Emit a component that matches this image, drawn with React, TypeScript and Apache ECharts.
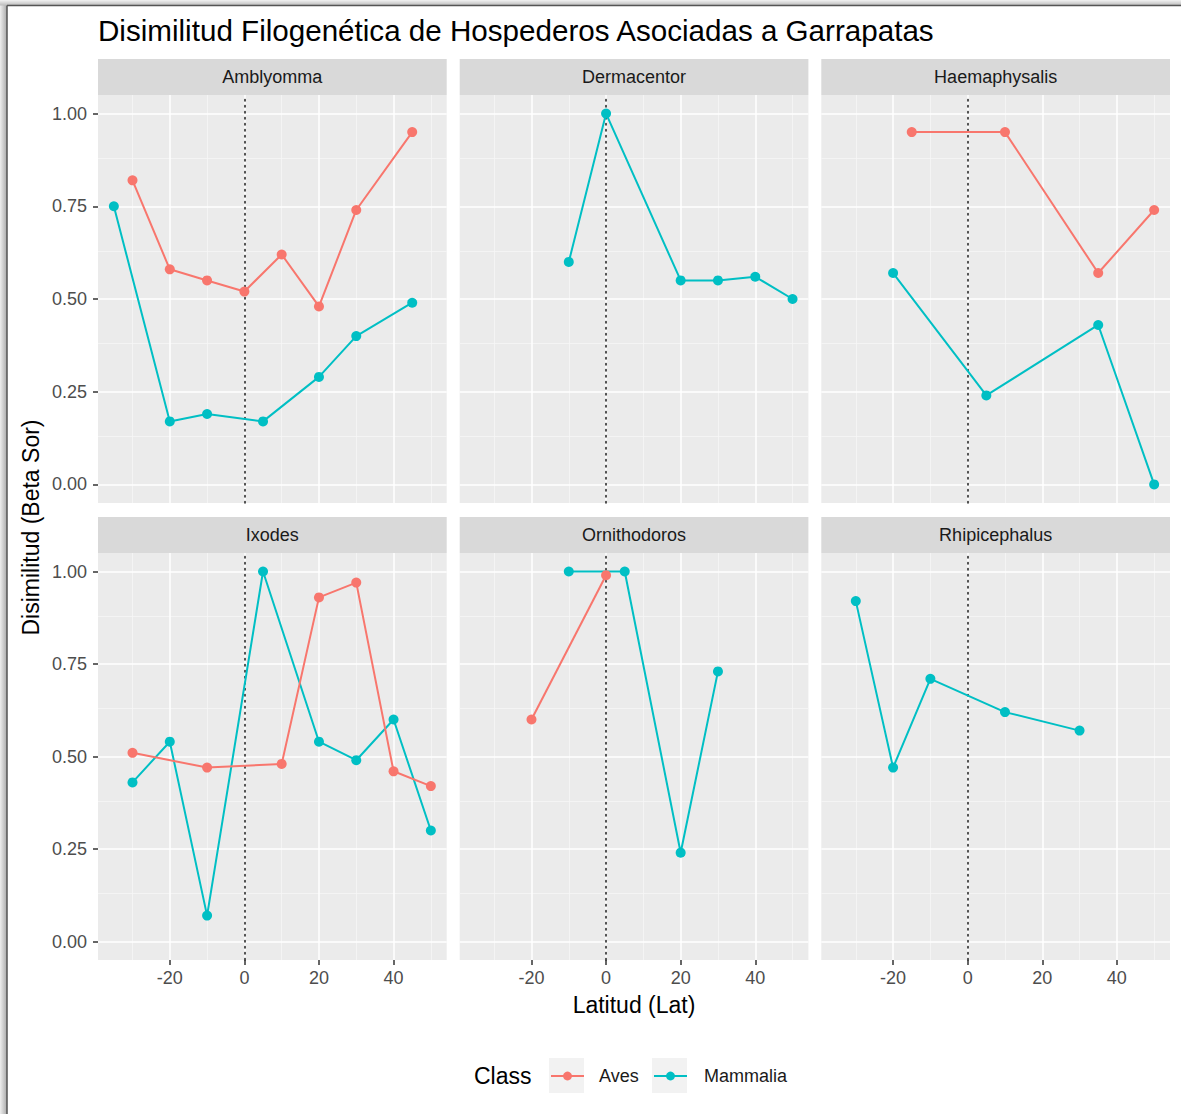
import React, { useEffect, useRef } from "react";
import * as echarts from "echarts";

// ---------- text ----------
const titleText = "Disimilitud Filogenética de Hospederos Asociadas a Garrapatas";
const xTitle = "Latitud (Lat)";
const yTitle = "Disimilitud (Beta Sor)";
const legendTitle = "Class";
const classNames = ["Aves", "Mammalia"];
const classColors = ["#F8766D", "#00BFC4"];

// ---------- data ----------
const facets = ["Amblyomma", "Dermacentor", "Haemaphysalis", "Ixodes", "Ornithodoros", "Rhipicephalus"];

const avesLat: number[][] = [
  [-30, -20, -10, 0, 10, 20, 30, 45],
  [],
  [-15, 10, 35, 50],
  [-30, -10, 10, 20, 30, 40, 50],
  [-20, 0],
  [],
];
const avesDis: number[][] = [
  [0.82, 0.58, 0.55, 0.52, 0.62, 0.48, 0.74, 0.95],
  [],
  [0.95, 0.95, 0.57, 0.74],
  [0.51, 0.47, 0.48, 0.93, 0.97, 0.46, 0.42],
  [0.6, 0.99],
  [],
];
const mammLat: number[][] = [
  [-35, -20, -10, 5, 20, 30, 45],
  [-10, 0, 20, 30, 40, 50],
  [-20, 5, 35, 50],
  [-30, -20, -10, 5, 20, 30, 40, 50],
  [-10, 5, 20, 30],
  [-30, -20, -10, 10, 30],
];
const mammDis: number[][] = [
  [0.75, 0.17, 0.19, 0.17, 0.29, 0.4, 0.49],
  [0.6, 1.0, 0.55, 0.55, 0.56, 0.5],
  [0.57, 0.24, 0.43, 0.0],
  [0.43, 0.54, 0.07, 1.0, 0.54, 0.49, 0.6, 0.3],
  [1.0, 1.0, 0.24, 0.73],
  [0.92, 0.47, 0.71, 0.62, 0.57],
];

const xMajorBreaks = [-20, 0, 20, 40];
const xMinorBreaks = [-30, -10, 10, 30, 50];
const yMajorBreaks = [0, 0.25, 0.5, 0.75, 1];
const yMinorBreaks = [0.125, 0.375, 0.625, 0.875];
const refLineLat = 0;
const xLimits = [-39.25, 54.25];
const yLimits = [-0.05, 1.05];

// ---------- layout ----------
const COL_LEFT = [98, 459.7, 821.3];
const PANEL_W = 348.7;
const ROW_TOP = [95, 553];
const PANEL_H = [408, 407];
const STRIP_H = 36;
const FONT = "'Liberation Sans', Arial, sans-serif";

function buildOption() {
  const grids: any[] = [];
  const xAxes: any[] = [];
  const yAxes: any[] = [];
  const series: any[] = [];
  const graphics: any[] = [];

  const majorStyle = { color: "#FFFFFF", width: 1.5, type: "solid" };
  const minorStyle = { color: "#F6F6F6", width: 0.8, type: "solid" };
  const dottedStyle = { color: "#1A1A1A", width: 1.5, type: [1.5, 4.5], cap: "round" };

  facets.forEach((name, i) => {
    const row = Math.floor(i / 3);
    const col = i % 3;
    const left = COL_LEFT[col];
    const top = ROW_TOP[row];
    const h = PANEL_H[row];
    grids.push({
      left,
      top,
      width: PANEL_W,
      height: h,
      show: true,
      backgroundColor: "#EBEBEB",
      borderWidth: 0,
      containLabel: false,
    });
    xAxes.push({
      type: "value",
      gridIndex: i,
      min: xLimits[0],
      max: xLimits[1],
      position: "bottom",
      axisLine: { show: false, onZero: false },
      splitLine: { show: false },
      axisTick: {
        show: row === 1,
        customValues: xMajorBreaks,
        length: 5,
        lineStyle: { color: "#333333", width: 1.5 },
      },
      axisLabel: {
        show: row === 1,
        customValues: xMajorBreaks,
        fontSize: 18,
        color: "#4D4D4D",
        margin: 9,
        fontFamily: FONT,
      },
    });
    yAxes.push({
      type: "value",
      gridIndex: i,
      min: yLimits[0],
      max: yLimits[1],
      position: "left",
      axisLine: { show: false, onZero: false },
      splitLine: { show: false },
      axisTick: {
        show: col === 0,
        customValues: yMajorBreaks,
        length: 5,
        lineStyle: { color: "#333333", width: 1.5 },
      },
      axisLabel: {
        show: col === 0,
        customValues: yMajorBreaks,
        formatter: (v: number) => v.toFixed(2),
        fontSize: 18,
        color: "#4D4D4D",
        margin: 11,
        fontFamily: FONT,
      },
    });
    // panel grid lines + reference line
    series.push({
      type: "line",
      name: "_grid" + i,
      xAxisIndex: i,
      yAxisIndex: i,
      data: [],
      z: 1,
      silent: true,
      markLine: {
        silent: true,
        z: 1,
        symbol: ["none", "none"],
        label: { show: false },
        emphasis: { disabled: true },
        animation: false,
        data: [
          ...xMinorBreaks.map((v) => ({ xAxis: v, lineStyle: minorStyle })),
          ...yMinorBreaks.map((v) => ({ yAxis: v, lineStyle: minorStyle })),
          ...xMajorBreaks.map((v) => ({ xAxis: v, lineStyle: majorStyle })),
          ...yMajorBreaks.map((v) => ({ yAxis: v, lineStyle: majorStyle })),
          { xAxis: refLineLat, lineStyle: dottedStyle },
        ],
      },
    });
    // strip
    graphics.push({
      type: "rect",
      shape: { x: left, y: top - STRIP_H, width: PANEL_W, height: STRIP_H },
      style: { fill: "#D9D9D9" },
      silent: true,
    });
    graphics.push({
      type: "text",
      x: left + PANEL_W / 2,
      y: top - STRIP_H / 2,
      style: {
        text: name,
        fontSize: 18,
        fontFamily: FONT,
        fill: "#1A1A1A",
        align: "center",
        verticalAlign: "middle",
      },
      silent: true,
    });
  });

  const lats = [avesLat, mammLat];
  const dis = [avesDis, mammDis];
  classNames.forEach((cls, c) => {
    facets.forEach((_, i) => {
      if (!lats[c][i].length) return;
      series.push({
        type: "line",
        name: cls,
        xAxisIndex: i,
        yAxisIndex: i,
        data: lats[c][i].map((x, k) => [x, dis[c][i][k]]),
        symbol: "circle",
        symbolSize: 10,
        showSymbol: true,
        clip: false,
        z: c === 0 ? 4 : 3,
        lineStyle: { color: classColors[c], width: 2 },
        itemStyle: { color: classColors[c], borderWidth: 0 },
        emphasis: { disabled: true },
      });
    });
  });

  // page frame (screenshot border)
  graphics.push({
    type: "rect",
    shape: { x: 0, y: 0, width: 7, height: 1114 },
    style: {
      fill: { type: "linear", x: 0, y: 0, x2: 1, y2: 0, colorStops: [
        { offset: 0, color: "#EEEEEE" }, { offset: 1, color: "#AAAAAA" } ] },
    },
    silent: true,
  });
  graphics.push({
    type: "rect",
    shape: { x: 0, y: 0, width: 1181, height: 5.5 },
    style: {
      fill: { type: "linear", x: 0, y: 0, x2: 0, y2: 1, colorStops: [
        { offset: 0, color: "#F2F2F2" }, { offset: 1, color: "#BBBBBB" } ] },
    },
    silent: true,
  });
  graphics.push({ type: "line", shape: { x1: 7, y1: 5.5, x2: 7, y2: 1114 }, style: { stroke: "#555555", lineWidth: 1.5 }, silent: true });
  graphics.push({ type: "line", shape: { x1: 7, y1: 5.5, x2: 1181, y2: 5.5 }, style: { stroke: "#555555", lineWidth: 1.5 }, silent: true });

  // axis titles
  graphics.push({
    type: "text",
    x: (COL_LEFT[0] + COL_LEFT[2] + PANEL_W) / 2,
    y: 1005,
    style: { text: xTitle, fontSize: 23, fontFamily: FONT, fill: "#000000", align: "center", verticalAlign: "middle" },
    silent: true,
  });
  graphics.push({
    type: "text",
    x: 31,
    y: (ROW_TOP[0] + ROW_TOP[1] + PANEL_H[1]) / 2,
    rotation: Math.PI / 2,
    style: { text: yTitle, fontSize: 23, fontFamily: FONT, fill: "#000000", align: "center", verticalAlign: "middle" },
    silent: true,
  });

  // legend title + key backgrounds
  graphics.push({
    type: "text",
    x: 474,
    y: 1076,
    style: { text: legendTitle, fontSize: 23, fontFamily: FONT, fill: "#000000", align: "left", verticalAlign: "middle" },
    silent: true,
  });
  graphics.push({ type: "rect", shape: { x: 549, y: 1058, width: 35, height: 35 }, style: { fill: "#F2F2F2" }, silent: true });
  graphics.push({ type: "rect", shape: { x: 652, y: 1058, width: 35, height: 35 }, style: { fill: "#F2F2F2" }, silent: true });

  const legendBase = {
    orient: "horizontal",
    top: 1067,
    padding: 0,
    itemWidth: 33,
    itemHeight: 11,
    selectedMode: false,
    textStyle: { fontSize: 18, color: "#1A1A1A", fontFamily: FONT, padding: [0, 0, 0, 10] },
  };

  return {
    animation: false,
    backgroundColor: "#FFFFFF",
    textStyle: { fontFamily: FONT },
    title: {
      text: titleText,
      left: 93,
      top: 10,
      textStyle: { fontSize: 29.6, fontWeight: "normal", color: "#000000", fontFamily: FONT },
    },
    legend: [
      { ...legendBase, left: 550, data: [classNames[0]] },
      { ...legendBase, left: 653, data: [classNames[1]], textStyle: { ...legendBase.textStyle, padding: [0, 0, 0, 12] } },
    ],
    grid: grids,
    xAxis: xAxes,
    yAxis: yAxes,
    series,
    graphic: graphics,
  };
}

export default function App() {
  const ref = useRef<HTMLDivElement>(null);
  useEffect(() => {
    const chart = echarts.init(ref.current!, null, { renderer: "svg" });
    chart.setOption(buildOption() as any);
    return () => chart.dispose();
  }, []);
  return (
    <div
      ref={ref}
      style={{ position: "absolute", left: 0, top: 0, width: 1181, height: 1114, background: "#FFFFFF" }}
    />
  );
}
